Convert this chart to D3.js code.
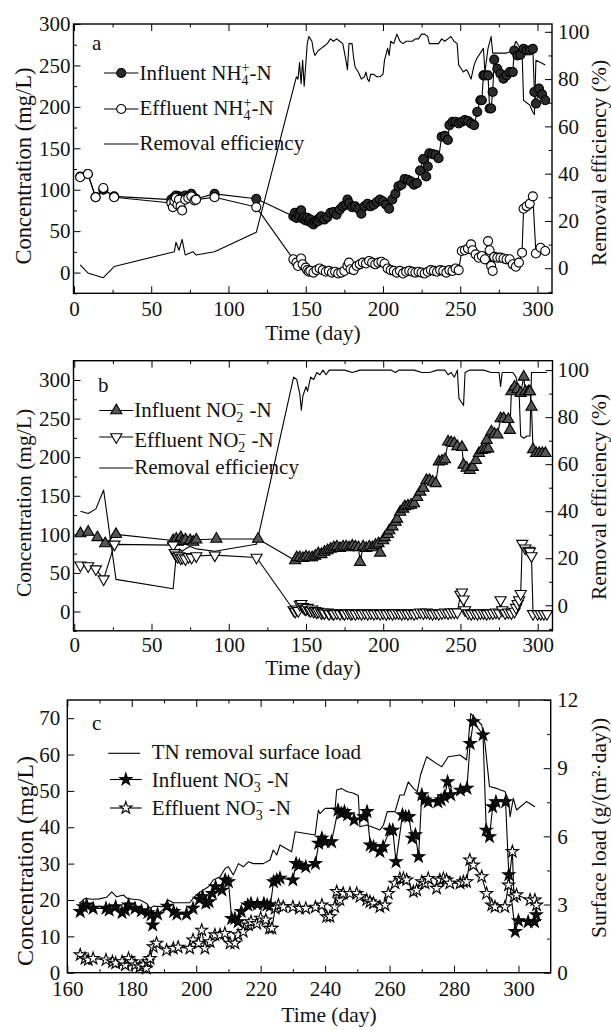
<!DOCTYPE html>
<html>
<head>
<meta charset="utf-8">
<script src="https://cdn.jsdelivr.net/npm/d3@7"></script>
<style>
  body { margin: 0; background: #fff; }
  svg, text { font-family: "Liberation Serif", "Times New Roman", serif; }
  text { fill: #111; }
</style>
</head>
<body>
<svg id="chart" width="611" height="1030" font-family="Liberation Serif"></svg>
<script>
// ---- panel a : NH4+-N (day, mg/L) and removal efficiency (day, %)
const nh4Influent = [[4,116],[9,119],[14,91],[19,100],[26,92],
  [63,88],[64,86],[65,91],[66,93],[67,90],[68,92],[69,88],[70,91],[72,93],[74,91],[76,95],[78,90],[79,89],
  [91,95],[118,89],
  [142,68],[143,72],[144,66],[145,70],[146,68],[147,75],[148,65],[149,67],[150,63],[151,66],[152,62],[153,64],[154,60],[155,58],[156,61],[157,63],[158,62],[159,66],[160,68],[162,64],[164,67],[166,72],[168,73],[170,70],[172,76],[174,80],[176,82],[177,88],[178,84],[180,79],[182,80],[184,77],[186,71],[188,80],[190,83],[192,80],[194,82],[196,85],[198,88],[200,86],[202,82],[204,77],[206,88],[208,95],[210,104],[212,106],[214,113],[216,112],[218,110],[220,106],[222,108],[224,123],[226,137],[228,116],[229,128],[230,144],[232,143],[234,142],[236,138],[238,164],[240,165],[242,160],[243,178],[245,182],[247,182],[249,180],[251,182],[253,184],[255,183],[257,180],[259,178],[261,194],[263,208],[264,208],[265,238],[266,238],[268,238],[269,198],[270,198],[271,218],[272,257],[274,246],[276,240],[278,234],[280,238],[282,242],[284,242],[285,268],[287,262],[289,263],[291,270],[293,268],[295,268],[297,270],[298,218],[299,204],[301,222],[303,215],[305,208]];
const nh4Effluent = [[4,115],[9,119],[14,91],[19,102],[26,91],
  [63,84],[64,79],[65,86],[66,90],[67,82],[68,88],[69,80],[70,75],[72,88],[74,90],[76,92],[78,87],[79,88],
  [91,91],[118,79],
  [142,16],[144,12],[145,8],[147,17],[148,10],[150,6],[151,3],[152,1],[153,2],[155,0],[157,3],[159,5],[161,3],[163,1],[165,2],[167,0],[169,1],[171,-1],[173,0],[175,2],[177,8],[178,12],[179,4],[181,3],[183,8],[185,10],[187,12],[189,11],[191,14],[193,12],[195,10],[197,12],[199,13],[201,11],[203,5],[205,3],[207,2],[209,0],[211,2],[213,-1],[215,1],[217,2],[219,1],[221,0],[223,1],[225,0],[227,-1],[229,1],[231,3],[233,2],[235,1],[237,3],[239,2],[241,0],[243,3],[245,2],[247,5],[249,3],[251,26],[253,27],[255,29],[257,34],[258,27],[260,22],[262,18],[264,20],[266,16],[268,38],[269,27],[270,8],[271,2],[272,19],[274,18],[276,18],[278,17],[280,16],[282,16],[284,10],[286,7],[288,12],[290,24],[291,77],[293,80],[295,83],[297,92],[299,23],[302,30],[305,26]];
const nh4Removal = [[4,1.4],[9,-2],[19,-4],[26,0.7],[65,7],[66,11],[68,7.6],[70,12.2],[72,5.6],[77,7],[79,5.6],[91,7],[118,15.2],
  [142,76],[144,81],[145,80],[146,87],[147,78],[148,88],[149,77],[151,95],[152,98],[153,97],[154,96],[155,92],[156,90],[158,92],[160,93],[162,94],[164,95],[166,97],[168,96],[170,97],[172,96],[174,95],[176,88],[177,84],[178,95],[180,95],[181,89],[182,85],[184,83],[186,80],[188,81],[189,83],[190,80],[191,79],[192,82],[194,82],[196,81],[198,81],[200,82],[201,88],[203,93],[204,90],[205,96],[207,95],[209,99],[211,96],[213,95],[215,96],[217,96],[219,96],[221,97],[223,97],[225,99],[227,99],[229,98],[230,95],[233,95],[236,95],[238,97],[240,96],[242,97],[244,98],[246,96],[248,95],[249,86],[250,85],[252,83],[254,84],[255,83],[257,80],[259,86],[261,89],[263,91],[265,93],[266,83],[268,93],[270,98],[271,91],[273,91],[276,91],[280,91],[284,92],[286,96],[288,94],[290,92],[291,71],[293,70],[295,69],[297,66],[298,65],[299,88],[302,87],[305,86]];

// ---- panel b : NO2--N
const no2Influent = [[4,101],[9,103],[15,96],[20,88],[27,100],[64,92],[66,94],[67,90],[69,96],[70,91],[72,93],[75,92],[77,90],[79,93],[92,94],[119,94],
  [143,66],[144,70],[146,70],[148,69],[150,71],[152,70],[154,70],[156,72],[158,75],[160,74],[162,77],[164,79],[166,81],[168,83],[170,84],[172,82],[174,84],[176,84],[178,83],[180,85],[182,84],[184,83],[185,64],[187,84],[189,82],[191,84],[193,83],[195,86],[197,88],[198,76],[200,92],[201,96],[203,100],[204,105],[206,110],[208,116],[209,120],[211,129],[213,133],[214,136],[216,137],[218,138],[220,140],[222,148],[224,155],[226,160],[228,170],[230,170],[232,168],[234,166],[236,194],[238,195],[240,197],[242,220],[244,219],[246,218],[248,214],[251,213],[252,190],[254,186],[256,183],[258,187],[260,196],[262,205],[264,209],[266,210],[267,222],[268,211],[270,233],[272,230],[274,229],[276,250],[278,250],[281,249],[282,235],[283,285],[285,291],[287,288],[289,283],[291,304],[292,285],[294,285],[295,285],[296,265],[297,210],[299,205],[301,205],[303,205],[305,205]];
const no2Effluent = [[4,60],[9,59],[14,55],[19,42],[26,87],[64,86],[65,76],[66,73],[67,71],[68,72],[69,69],[70,70],[72,68],[74,71],[76,70],[79,72],[91,73],[118,70],
  [142,2],[143,0],[144,3],[145,1],[146,9],[147,10],[148,6],[149,4],[150,3],[151,5],[152,2],[153,1],[154,3],[155,0],[156,1],[157,-1],[158,0],[160,-2],[161,-1],[162,-2],[164,-1],[165,-3],[167,-2],[168,-3],[170,-2],[172,-3],[174,-2],[175,-3],[177,-2],[179,-3],[180,-2],[182,-3],[184,-2],[186,-3],[188,-2],[190,-3],[192,-2],[194,-3],[196,-2],[198,-3],[200,-2],[202,-3],[204,-2],[206,-3],[208,-2],[210,-2],[212,-3],[214,-2],[216,-3],[218,-2],[220,-3],[222,-2],[224,-1],[226,-2],[228,-1],[230,-2],[232,-3],[234,-2],[236,-3],[238,-2],[240,-1],[242,-2],[244,-1],[246,-1],[248,-1],[250,22],[251,25],[252,16],[253,2],[255,-2],[257,-3],[259,-2],[261,-3],[263,-2],[265,-2],[267,-3],[269,-2],[271,-2],[273,-1],[275,-2],[276,15],[277,2],[279,-2],[281,-1],[283,-2],[285,0],[286,5],[287,10],[288,15],[289,23],[290,88],[292,82],[294,79],[295,78],[296,72],[297,-3],[300,-3],[302,-3],[304,-3],[306,-3]];
const no2Removal = [[4,40],[9,39],[14,41],[19,49],[27,11],[64,7],[66,21],[68,24],[70,23],[72,24],[75,25],[79,24],[91,23],[118,26],
  [142,97],[144,96],[146,90],[147,83],[148,89],[150,93],[151,91],[153,97],[155,96],[157,99],[159,98],[161,100],[163,98],[165,100],[170,100],[175,100],[180,99],[185,100],[190,100],[195,100],[200,100],[205,100],[208,99],[210,100],[215,100],[220,100],[225,99],[230,99],[235,100],[240,100],[242,98],[244,99],[246,97],[248,100],[249,88],[251,86],[252,85],[253,99],[256,100],[260,100],[265,100],[270,99],[275,99],[276,93],[277,99],[280,99],[284,99],[286,97],[287,93],[288,90],[289,72],[291,71],[293,72],[295,72],[296,99],[300,99],[306,99]];

// ---- panel c : NO3--N (mg/L) and TN removal surface load (g/(m2.day))
const no3Influent = [[164,16.8],[165,18.1],[166,18.6],[168,17.7],[172,17.7],[173,17.2],[175,18.1],[177,16.5],[178,17.2],[179,18.6],[181,17.7],[183,17],[185,16.5],[186,15.9],[186.5,13.1],[188,16.1],[191,18.3],[193,16.8],[194,16.1],[197,16.1],[199,17.7],[201,20.2],[202,20.9],[203,19.1],[204,19.5],[205,21.8],[206,23.6],[208,22.7],[209,25.5],[210,25],[211,14.9],[212,14.9],[213,14],[214,16.8],[216,18.6],[217,19],[219,18.8],[221,19],[222,18.6],[223,18.4],[224,25],[225,25.5],[226,26],[230,25.5],[231,30],[232,29.6],[234,29.1],[237,30],[238,35.6],[239,37],[240,36],[242,36],[244,44.7],[245,43.8],[246,44.3],[247,43.4],[249,42],[252,42.9],[253,44.3],[254,35.1],[255,34.6],[257,33.3],[258,34.6],[260,39.2],[261,39.2],[262,30.5],[264,43.4],[265,42.9],[266,42.9],[267,37],[268,37.9],[269,31.9],[270,48.9],[271,47.5],[272,47],[275,47],[276,47.5],[277,48.4],[278,52.5],[279,48.9],[282,50.2],[284,50.7],[285,63],[286,69],[289,65.4],[290,39.2],[291,37.4],[292,45.6],[293,47],[296,47],[297,26.9],[299,11.3],[300,14.3],[303,14],[305,14],[305.5,15.9]];
const no3Effluent = [[164,4.9],[165.5,3.9],[166.5,3.5],[168,3.9],[172,3.5],[174,3],[175,2.6],[177,3],[178,2.1],[179,3.9],[180,3],[181,2.1],[182.5,1.6],[183.5,2.1],[184.5,1.2],[185,3],[185.7,3.9],[186.7,7.1],[187.7,8.1],[190.8,6.2],[192.9,6.7],[194.4,7],[198,6.7],[199,9],[200.7,8.1],[201.7,11.7],[202.7,6.7],[204.3,8.5],[205.8,10.4],[207.4,10.4],[208.9,10.8],[210.5,8.1],[212,8.1],[213,10.4],[214.6,11.3],[216.2,13.1],[217,14],[218.8,13.5],[220,15],[221.6,14.5],[222.7,12.2],[223.5,12.2],[224.5,17.7],[225.5,18.6],[227,18.1],[230,18.1],[232,17.7],[234,17.7],[237,18],[239,18.6],[240.5,15.4],[241.5,15.4],[243,18.1],[243.6,22.3],[244.6,20],[245.6,21.8],[247.7,21.8],[249.8,21.8],[250.8,20.9],[252.9,20],[253.9,19.5],[255,19.1],[257,18.1],[258.6,18.6],[259.6,21.8],[261.7,24.6],[263.2,25.9],[264.3,25.9],[265.3,25.5],[267.4,22.3],[268.4,22.7],[270,25],[271,24.6],[272,25.9],[274.6,23.2],[275.6,25.5],[276.7,25.9],[277.7,25.5],[278.7,24.6],[281.9,24.6],[282.9,25],[283.9,25],[284.9,31],[286,29.6],[288.6,26.4],[290.1,21.8],[291.7,18.6],[292.7,18.1],[295.8,18.1],[296.9,24.1],[298.1,33.3],[298.6,20.9],[299.4,21.4],[303.6,20],[305.1,20],[305.6,18.6]];
const tnLoad = [[163.7,3.05],[165.5,3.27],[167.6,3.23],[170,3.25],[172.2,3.32],[173.8,3.56],[175.3,3.34],[177.4,3.42],[178.6,3.27],[180.5,3.23],[182.6,3.2],[184.6,3.05],[185.7,2.83],[186.7,2.93],[189.8,2.9],[191.3,3.2],[192.9,3.08],[198,3.08],[199,3.27],[200.7,3.5],[202.2,3.64],[203.8,3.78],[205.3,4.08],[207.4,4.22],[209,4.6],[210,4.66],[211.5,4.3],[213.1,4.8],[214.6,4.66],[216.2,4.88],[217.7,4.8],[220.8,4.8],[222.9,4.96],[223.9,5.4],[225,5.18],[226,5.62],[229.6,5.32],[230.7,6.2],[236.9,6.06],[237.9,7.16],[238.4,7.0],[240,7.23],[243.1,7.23],[243.6,8.04],[245.1,8.11],[246.7,7.97],[248.8,7.9],[250.3,7.8],[250.8,6.42],[252.9,6.5],[254.4,6.42],[257,6.28],[258.1,6.5],[259.3,7.09],[261.7,7.09],[263.2,7.82],[264.5,7.82],[265.8,8.4],[267.4,8.11],[268.6,7.97],[269.6,8.7],[271.5,9.5],[274.6,9.2],[276.2,9.06],[278.2,9.5],[281.9,9.58],[283.9,9.36],[285.2,11.4],[288.6,10.9],[289.6,10.1],[291,8.19],[293.2,8.11],[295.8,7.97],[296.9,7.6],[297.4,6.87],[298.4,7.67],[299.4,7.16],[302.5,7.53],[305.1,7.3]];

// ---- tick values
const dayMajorAB = [0, 50, 100, 150, 200, 250, 300];
const dayMinorAB = [25, 75, 125, 175, 225, 275];
const concMajorAB = [0, 50, 100, 150, 200, 250, 300];
const concMinorAB = [-25, 25, 75, 125, 175, 225, 275];
const effMajor = [0, 20, 40, 60, 80, 100];
const effMinor = [-10, 10, 30, 50, 70, 90];
const dayMajorC = [160, 180, 200, 220, 240, 260, 280, 300];
const dayMinorC = [170, 190, 210, 230, 250, 270, 290];
const concMajorC = [0, 10, 20, 30, 40, 50, 60, 70];
const loadMajor = [0, 3, 6, 9, 12];
const loadMinor = [1.5, 4.5, 7.5, 10.5];

const svg = d3.select("#chart");
const serif = '"Liberation Serif", "Times New Roman", serif';

const shapes = {
    dot:   { sym: d3.symbolCircle,   size: 64, fill: "#2b2b2b", rot: 0 },
    ring:  { sym: d3.symbolCircle,   size: 64, fill: "#fff",    rot: 0 },
    up:    { sym: d3.symbolTriangle, size: 54, fill: "#555",    rot: 0 },
    down:  { sym: d3.symbolTriangle, size: 54, fill: "#fff",    rot: 180 },
    star:  { sym: d3.symbolStar,     size: 46, fill: "#111",    rot: 0 },
    ostar: { sym: d3.symbolStar,     size: 46, fill: "#fff",    rot: 0 }
};

function putMarker(g, type, cx, cy) {
    const s = shapes[type];
    g.append("path")
        .attr("d", d3.symbol().type(s.sym).size(s.size)())
        .attr("transform", `translate(${cx},${cy}) rotate(${s.rot})`)
        .attr("fill", s.fill)
        .attr("stroke", "#000")
        .attr("stroke-width", 1.1);
}

function styleAxis(sel, size) {
    sel.attr("font-family", serif);
    sel.select(".domain").remove();
    sel.selectAll("line").attr("stroke", "#000").attr("stroke-width", 1);
    sel.selectAll("text").attr("font-size", size).style("font-family", serif).attr("fill", "#111");
}

function drawPanel(p) {
    const g = svg.append("g");
    const x = d3.scaleLinear().domain(p.xDomain).range([p.left, p.right]);
    const yL = d3.scaleLinear().domain(p.yLDomain).range([p.bottom, p.top]);
    const yR = d3.scaleLinear().domain(p.yRDomain).range([p.bottom, p.top]);

    // bottom / top ticks (inward)
    g.append("g").attr("transform", `translate(0,${p.bottom})`)
        .call(d3.axisBottom(x).tickValues(p.xMajor).tickSize(-7).tickPadding(p.xPad).tickFormat(d3.format("d")))
        .call(s => styleAxis(s, 21));
    g.append("g").attr("transform", `translate(0,${p.bottom})`)
        .call(d3.axisBottom(x).tickValues(p.xMinor).tickSize(-3.5).tickFormat(""))
        .call(s => styleAxis(s, 21));
    g.append("g").attr("transform", `translate(0,${p.top})`)
        .call(d3.axisTop(x).tickValues(p.xMajor).tickSize(-7).tickFormat(""))
        .call(s => styleAxis(s, 21));
    g.append("g").attr("transform", `translate(0,${p.top})`)
        .call(d3.axisTop(x).tickValues(p.xMinor).tickSize(-3.5).tickFormat(""))
        .call(s => styleAxis(s, 21));

    // left axis
    g.append("g").attr("transform", `translate(${p.left},0)`)
        .call(d3.axisLeft(yL).tickValues(p.yLMajor).tickSize(-7).tickPadding(p.yLPad).tickFormat(d3.format("d")))
        .call(s => styleAxis(s, 21));
    if (p.yLMinor.length) {
        g.append("g").attr("transform", `translate(${p.left},0)`)
            .call(d3.axisLeft(yL).tickValues(p.yLMinor).tickSize(-3.5).tickFormat(""))
            .call(s => styleAxis(s, 21));
    }
    // right axis
    g.append("g").attr("transform", `translate(${p.right},0)`)
        .call(d3.axisRight(yR).tickValues(p.yRMajor).tickSize(-7).tickPadding(p.yRPad).tickFormat(d3.format("d")))
        .call(s => styleAxis(s, 21));
    g.append("g").attr("transform", `translate(${p.right},0)`)
        .call(d3.axisRight(yR).tickValues(p.yRMinor).tickSize(-3.5).tickFormat(""))
        .call(s => styleAxis(s, 21));

    // frame
    g.append("rect")
        .attr("x", p.left).attr("y", p.top)
        .attr("width", p.right - p.left).attr("height", p.bottom - p.top)
        .attr("fill", "none").attr("stroke", "#000").attr("stroke-width", 1.4);

    // series
    p.series.forEach(s => {
        const y = s.axis === "R" ? yR : yL;
        g.append("path")
            .datum(s.data)
            .attr("fill", "none")
            .attr("stroke", "#000")
            .attr("stroke-width", 1.1)
            .attr("stroke-linejoin", "round")
            .attr("d", d3.line().x(d => x(d[0])).y(d => y(d[1])));
    });
    p.series.filter(s => s.marker).forEach(s => {
        const y = s.axis === "R" ? yR : yL;
        s.data.forEach(d => putMarker(g, s.marker, x(d[0]), y(d[1])));
    });

    // titles
    g.append("text")
        .attr("transform", `translate(${p.xTitle[0]},${p.xTitle[1]})`)
        .attr("text-anchor", "middle").attr("font-size", 21.5)
        .text("Time (day)");
    g.append("text")
        .attr("transform", `translate(${p.yLTitle[0]},${p.yLTitle[1]}) rotate(-90)`)
        .attr("text-anchor", "middle").attr("font-size", p.yLTitle[2])
        .text("Concentration (mg/L)");
    g.append("text")
        .attr("transform", `translate(${p.yRTitle[0]},${p.yRTitle[1]}) rotate(-90)`)
        .attr("text-anchor", "middle").attr("font-size", 21.5)
        .text(p.yRText);
    g.append("text")
        .attr("x", p.tag[1]).attr("y", p.tag[2])
        .attr("font-size", 21)
        .text(p.tag[0]);

    // legend
    p.legend.forEach(l => {
        g.append("line")
            .attr("x1", l.x1).attr("x2", l.x2).attr("y1", l.y).attr("y2", l.y)
            .attr("stroke", "#000").attr("stroke-width", 1.1);
        if (l.marker) putMarker(g, l.marker, (l.x1 + l.x2) / 2, l.y);
        const t = g.append("text").attr("x", l.tx).attr("y", l.ty).attr("font-size", 21);
        l.parts.forEach(([txt, kind]) => {
            const ts = t.append("tspan").text(txt);
            if (kind === "sub") ts.attr("font-size", 14).attr("dy", 5);
            if (kind === "sup") ts.attr("font-size", 14).attr("dx", -7).attr("dy", -13);
            if (kind === "back") ts.attr("dy", 8);
        });
    });
}

drawPanel({
    left: 73.5, right: 552, top: 24, bottom: 293.3,
    xDomain: [-0.3, 309.4], yLDomain: [-25, 300], yRDomain: [-10.6, 103.3],
    xMajor: dayMajorAB, xMinor: dayMinorAB, xPad: 8,
    yLMajor: concMajorAB, yLMinor: concMinorAB, yLPad: 3,
    yRMajor: effMajor, yRMinor: effMinor, yRPad: 6,
    xTitle: [313, 339.5], yLTitle: [31, 166, 22.5], yRTitle: [606, 163], yRText: "Removal efficiency (%)",
    tag: ["a", 92, 50],
    series: [
        { data: nh4Removal, axis: "R" },
        { data: nh4Influent, axis: "L", marker: "dot" },
        { data: nh4Effluent, axis: "L", marker: "ring" }
    ],
    legend: [
        { x1: 104, x2: 138.5, y: 73, marker: "dot", tx: 139.5, ty: 80,
          parts: [["Influent NH"], ["4", "sub"], ["+", "sup"], ["-N", "back"]] },
        { x1: 104, x2: 138.5, y: 109, marker: "ring", tx: 139.5, ty: 115,
          parts: [["Effluent NH"], ["4", "sub"], ["+", "sup"], ["-N", "back"]] },
        { x1: 104, x2: 138.5, y: 144, tx: 139.5, ty: 150,
          parts: [["Removal efficiency"]] }
    ]
});

drawPanel({
    left: 73.5, right: 552.5, top: 360.7, bottom: 630.8,
    xDomain: [-0.5, 309.6], yLDomain: [-25, 325], yRDomain: [-10.85, 104],
    xMajor: dayMajorAB, xMinor: dayMinorAB, xPad: 5.8,
    yLMajor: concMajorAB, yLMinor: concMinorAB, yLPad: 3,
    yRMajor: effMajor, yRMinor: effMinor, yRPad: 5,
    xTitle: [313, 674.5], yLTitle: [31, 503, 21.5], yRTitle: [606, 497], yRText: "Removal efficiency (%)",
    tag: ["b", 98, 391.7],
    series: [
        { data: no2Removal, axis: "R" },
        { data: no2Influent, axis: "L", marker: "up" },
        { data: no2Effluent, axis: "L", marker: "down" }
    ],
    legend: [
        { x1: 99.3, x2: 133.3, y: 410.5, marker: "up", tx: 134.3, ty: 417.3,
          parts: [["Influent NO"], ["2", "sub"], ["\u2212", "sup"], [" -N", "back"]] },
        { x1: 99.3, x2: 133.3, y: 437, marker: "down", tx: 134.3, ty: 446.7,
          parts: [["Effluent NO"], ["2", "sub"], ["\u2212", "sup"], [" -N", "back"]] },
        { x1: 99.3, x2: 133.3, y: 468, tx: 134.3, ty: 473.5,
          parts: [["Removal efficiency"]] }
    ]
});

drawPanel({
    left: 67.3, right: 550.7, top: 700, bottom: 972.7,
    xDomain: [160, 310], yLDomain: [0, 75], yRDomain: [0, 12],
    xMajor: dayMajorC, xMinor: dayMinorC, xPad: 8.2,
    yLMajor: concMajorC, yLMinor: [], yLPad: 7,
    yRMajor: loadMajor, yRMinor: loadMinor, yRPad: 6.5,
    xTitle: [329, 1022], yLTitle: [33, 861, 24], yRTitle: [606, 828], yRText: "Surface load (g/(m\u00B2\u00B7day))",
    tag: ["c", 92, 730],
    series: [
        { data: tnLoad, axis: "R" },
        { data: no3Influent, axis: "L", marker: "star" },
        { data: no3Effluent, axis: "L", marker: "ostar" }
    ],
    legend: [
        { x1: 108.3, x2: 140, y: 753.3, tx: 151.7, ty: 759.3,
          parts: [["TN removal surface load"]] },
        { x1: 110, x2: 141.7, y: 779.5, marker: "star", tx: 151.7, ty: 786.7,
          parts: [["Influent NO"], ["3", "sub"], ["\u2212", "sup"], [" -N", "back"]] },
        { x1: 110, x2: 141.7, y: 808, marker: "ostar", tx: 151.7, ty: 815,
          parts: [["Effluent NO"], ["3", "sub"], ["\u2212", "sup"], [" -N", "back"]] }
    ]
});
</script>
</body>
</html>
